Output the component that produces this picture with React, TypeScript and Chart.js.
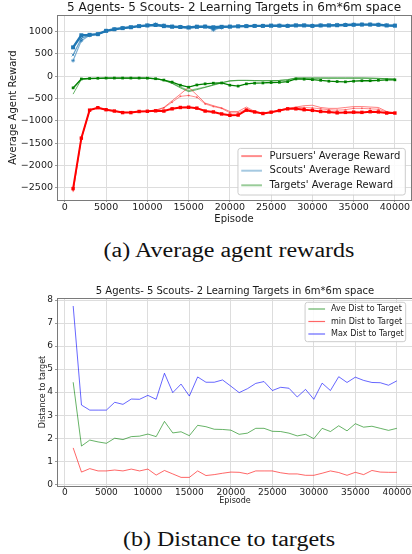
import React, { useEffect, useRef } from "react";
import { Chart, registerables } from "chart.js";

Chart.register(...registerables);

const FONT = "'DejaVu Sans', sans-serif";
const TEXT = "#1a1a1a";
const GRID = "#dddddd";
const SPINE = "#7a7a7a";

const chartTitle = "5 Agents- 5 Scouts- 2 Learning Targets in 6m*6m space";

const episodes = [
  1000, 2000, 3000, 4000, 5000, 6000, 7000, 8000, 9000, 10000,
  11000, 12000, 13000, 14000, 15000, 16000, 17000, 18000, 19000, 20000,
  21000, 22000, 23000, 24000, 25000, 26000, 27000, 28000, 29000, 30000,
  31000, 32000, 33000, 34000, 35000, 36000, 37000, 38000, 39000, 40000,
];
const episodeTicks = [0, 5000, 10000, 15000, 20000, 25000, 30000, 35000, 40000];
const rewardTicks = [-2500, -2000, -1500, -1000, -500, 0, 500, 1000];
const distTicks = [0, 1, 2, 3, 4, 5, 6, 7, 8];

// (a) rewards
const pursuersMain = [
  -2520, -1388, -760, -705, -750, -780, -815, -815, -790, -785,
  -775, -780, -730, -700, -695, -715, -780, -800, -845, -875,
  -870, -760, -800, -835, -805, -770, -730, -730, -750, -765,
  -790, -800, -820, -810, -805, -810, -795, -800, -825, -825,
];
const pursuersRunB = [
  -2600, -1400, -755, -700, -745, -775, -810, -810, -785, -775,
  -760, -700, -550, -400, -245, -420, -600, -660, -710, -790,
  -790, -690, -790, -830, -800, -760, -720, -690, -660, -650,
  -700, -720, -720, -700, -680, -680, -690, -700, -790, -815,
];
const pursuersRunC = [
  -2560, -1390, -765, -710, -755, -785, -815, -815, -795, -790,
  -770, -710, -580, -450, -430, -470, -620, -680, -720, -820,
  -820, -740, -790, -830, -810, -770, -730, -700, -700, -710,
  -730, -750, -760, -750, -720, -720, -730, -740, -805, -820,
];
const scoutsMain = [
  649, 920, 930, 945, 1020, 1055, 1080, 1100, 1125, 1140,
  1150, 1125, 1110, 1105, 1095, 1110, 1115, 1100, 1110, 1115,
  1120, 1125, 1130, 1130, 1135, 1135, 1130, 1140, 1140, 1130,
  1140, 1140, 1145, 1150, 1155, 1160, 1160, 1155, 1140, 1135,
];
const scoutsRunB = [
  479, 850, 930, 940, 1015, 1050, 1080, 1100, 1125, 1145,
  1160, 1140, 1120, 1100, 1085, 1100, 1110, 1060, 1095, 1110,
  1120, 1125, 1125, 1130, 1130, 1135, 1135, 1145, 1145, 1135,
  1140, 1145, 1150, 1155, 1160, 1160, 1160, 1160, 1145, 1140,
];
const scoutsRunC = [
  351, 800, 920, 945, 1020, 1060, 1085, 1105, 1130, 1145,
  1170, 1150, 1130, 1110, 1100, 1120, 1120, 1040, 1090, 1110,
  1125, 1130, 1130, 1135, 1140, 1140, 1140, 1150, 1150, 1140,
  1145, 1150, 1155, 1160, 1165, 1165, 1165, 1160, 1150, 1145,
];
const targetsMain = [
  -260, -60, -50, -45, -40, -40, -40, -40, -40, -42,
  -55, -85, -130, -200, -245, -195, -170, -155, -150, -200,
  -220, -170, -155, -150, -140, -135, -120, -60, -65, -75,
  -90, -110, -118, -125, -110, -100, -100, -90, -80, -80,
];
const targetsRunB = [
  -400, -70, -50, -45, -40, -40, -40, -40, -40, -42,
  -55, -90, -160, -260, -345, -300, -250, -200, -150, -100,
  -90, -90, -95, -100, -100, -95, -80, -35, -35, -35,
  -35, -35, -35, -35, -35, -35, -40, -45, -55, -60,
];
const targetsRunC = [
  -280, -65, -50, -45, -40, -40, -40, -40, -40, -42,
  -55, -88, -150, -240, -320, -280, -240, -190, -140, -110,
  -95, -95, -100, -100, -95, -90, -75, -45, -45, -45,
  -45, -45, -45, -45, -45, -45, -48, -50, -58, -62,
];

// (b) distances
const aveDist = [
  4.43, 1.66, 1.92, 1.84, 1.78, 2.0, 1.94, 2.07, 2.09, 2.18,
  2.07, 2.73, 2.23, 2.28, 2.11, 2.56, 2.5, 2.39, 2.38, 2.35,
  2.17, 2.22, 2.43, 2.43, 2.3, 2.29, 2.22, 2.1, 2.17, 1.98,
  2.43, 2.29, 2.54, 2.32, 2.63, 2.48, 2.52, 2.43, 2.34, 2.43,
];
const minDist = [
  1.58, 0.53, 0.68, 0.58, 0.58, 0.62, 0.58, 0.66, 0.58, 0.66,
  0.4, 0.6, 0.45, 0.3, 0.3, 0.58, 0.38, 0.42, 0.48, 0.53,
  0.52, 0.45, 0.58, 0.58, 0.58, 0.5, 0.45, 0.45, 0.39, 0.39,
  0.48, 0.58, 0.51, 0.39, 0.52, 0.42, 0.6, 0.53, 0.52, 0.52,
];
const maxDist = [
  7.74, 3.44, 3.22, 3.22, 3.22, 3.56, 3.47, 3.7, 3.69, 3.86,
  3.69, 4.82, 3.98, 4.35, 3.83, 4.66, 4.43, 4.43, 4.53, 4.26,
  3.98, 4.15, 4.38, 4.46, 4.07, 4.21, 4.17, 3.79, 4.12, 3.69,
  4.39, 4.07, 4.67, 4.42, 4.65, 4.51, 4.42, 4.41, 4.3, 4.49,
];

const rewardLegend = ["Pursuers' Average Reward", "Scouts' Average Reward", "Targets' Average Reward"];
const distLegend = ["Ave Dist to Target", "min Dist to Target", "Max Dist to Target"];

const toPoints = (ys: number[]) => episodes.map((x, i) => ({ x, y: ys[i] }));
const fmt = (v: number) => (v < 0 ? "\u2212" + Math.abs(v) : String(v));

const framePlugin = {
  id: "frame",
  afterDatasetsDraw(chart: any, _a: any, opts: any) {
    const { ctx, chartArea: a } = chart;
    ctx.save();
    ctx.strokeStyle = opts.color || SPINE;
    ctx.lineWidth = 1;
    const l = Math.round(a.left), t = Math.round(a.top), r = Math.round(a.right), b = Math.round(a.bottom);
    ctx.strokeRect(l + 0.5, t + 0.5, r - l, b - t);
    ctx.restore();
  },
};

const boxLegendPlugin = {
  id: "boxLegend",
  afterDraw(chart: any, _a: any, o: any) {
    if (!o || !o.items) return;
    const { ctx, chartArea: a } = chart;
    ctx.save();
    ctx.font = `${o.fontSize}px ${FONT}`;
    const tw = Math.max(...o.items.map((it: any) => ctx.measureText(it.text).width));
    const w = o.padL + o.lineLen + o.gap + tw + o.padR;
    const h = o.padT + o.rowH * (o.items.length - 1) + o.padB;
    const right = a.right - o.offsetX;
    const left = right - w;
    const top = o.anchor === "top" ? a.top + o.offsetY : a.bottom - o.offsetY - h;
    const rr = 2.5;
    ctx.beginPath();
    ctx.moveTo(left + rr, top);
    ctx.lineTo(right - rr, top);
    ctx.quadraticCurveTo(right, top, right, top + rr);
    ctx.lineTo(right, top + h - rr);
    ctx.quadraticCurveTo(right, top + h, right - rr, top + h);
    ctx.lineTo(left + rr, top + h);
    ctx.quadraticCurveTo(left, top + h, left, top + h - rr);
    ctx.lineTo(left, top + rr);
    ctx.quadraticCurveTo(left, top, left + rr, top);
    ctx.closePath();
    ctx.fillStyle = "rgba(255,255,255,0.85)";
    ctx.fill();
    ctx.strokeStyle = "#cccccc";
    ctx.lineWidth = 1;
    ctx.stroke();
    o.items.forEach((it: any, i: number) => {
      const y = top + o.padT + i * o.rowH;
      ctx.beginPath();
      ctx.strokeStyle = it.color;
      ctx.lineWidth = o.lineWidth;
      ctx.moveTo(left + o.padL, y);
      ctx.lineTo(left + o.padL + o.lineLen, y);
      ctx.stroke();
      ctx.fillStyle = TEXT;
      ctx.textBaseline = "middle";
      ctx.textAlign = "left";
      ctx.fillText(it.text, left + o.padL + o.lineLen + o.gap, y);
    });
    ctx.restore();
  },
};

function xScale(height: number, tickSize: number, tickPad: number, titleSize: number, titlePadBottom: number) {
  return {
    type: "linear",
    min: -950,
    max: 41950,
    bounds: "data",
    afterBuildTicks: (s: any) => {
      s.ticks = episodeTicks.map((v) => ({ value: v }));
    },
    afterFit: (s: any) => {
      s.height = height;
    },
    ticks: {
      autoSkip: false,
      maxRotation: 0,
      minRotation: 0,
      padding: tickPad,
      color: TEXT,
      font: { family: FONT, size: tickSize, lineHeight: 1 },
      callback: (v: any) => String(v),
    },
    grid: { color: GRID, tickLength: 2, tickColor: "#9a9a9a" },
    border: { display: false },
    title: {
      display: true,
      text: "Episode",
      color: TEXT,
      font: { family: FONT, size: titleSize, lineHeight: 1.2 },
      padding: { top: 0, bottom: titlePadBottom },
    },
  };
}

function yScale(min: number, max: number, ticks: number[], tickSize: number, title: string, titleSize: number, titlePadTop: number) {
  return {
    type: "linear",
    min,
    max,
    bounds: "data",
    afterBuildTicks: (s: any) => {
      s.ticks = ticks.map((v) => ({ value: v }));
    },
    afterFit: (s: any) => {
      s.width = 57;
    },
    ticks: {
      autoSkip: false,
      padding: 2,
      color: TEXT,
      font: { family: FONT, size: tickSize, lineHeight: 1 },
      callback: (v: any) => fmt(v),
    },
    grid: { color: GRID, tickLength: 2, tickColor: "#9a9a9a" },
    border: { display: false },
    title: {
      display: true,
      text: title,
      color: TEXT,
      font: { family: FONT, size: titleSize, lineHeight: 1.2 },
      padding: { top: titlePadTop, bottom: 0 },
    },
  };
}

const RED = "#ff0000";
const BLUE = "#1f77b4";
const GREEN = "#008000";

function rewardConfig(): any {
  const thin = (ys: number[], color: string, extra: any = {}) => ({
    data: toPoints(ys),
    borderColor: color,
    backgroundColor: color,
    borderWidth: 1,
    pointRadius: 0,
    tension: 0,
    ...extra,
  });
  return {
    type: "line",
    data: {
      datasets: [
        thin(pursuersRunB, "rgba(255,0,0,0.5)", { order: 5 }),
        thin(pursuersRunC, "rgba(255,0,0,0.45)", { order: 5, pointRadius: 1, pointStyle: "circle", pointBorderWidth: 0 }),
        { data: toPoints(pursuersMain), borderColor: RED, backgroundColor: RED, borderWidth: 2, pointStyle: "rect", pointRadius: 2.4, pointBorderWidth: 0, tension: 0, order: 2 },
        thin(targetsRunB, "rgba(0,128,0,0.6)", { order: 5 }),
        thin(targetsRunC, "rgba(0,128,0,0.45)", { order: 5, borderWidth: 1.2 }),
        { data: toPoints(targetsMain), borderColor: GREEN, backgroundColor: GREEN, borderWidth: 1.3, pointStyle: "rect", pointRadius: 1.9, pointBorderWidth: 0, tension: 0, order: 2 },
        thin(scoutsRunC, "rgba(31,119,180,0.6)", { order: 3, borderWidth: 1.2, pointRadius: 2, pointStyle: "star", pointBorderWidth: 1 }),
        thin(scoutsRunB, "rgba(31,119,180,0.7)", { order: 3, borderWidth: 1.2, pointRadius: 2, pointStyle: "crossRot", pointBorderWidth: 1 }),
        { data: toPoints(scoutsMain), borderColor: BLUE, backgroundColor: BLUE, borderWidth: 2.4, pointStyle: "rect", pointRadius: 2.8, pointBorderWidth: 0, tension: 0, order: 1 },
      ],
    },
    options: {
      responsive: false,
      animation: false,
      devicePixelRatio: 1,
      events: [],
      layout: { padding: { left: 0, right: 3, top: 0, bottom: 0 } },
      plugins: {
        legend: { display: false },
        tooltip: { enabled: false },
        title: {
          display: true,
          fullSize: false,
          text: chartTitle,
          color: TEXT,
          font: { family: FONT, size: 12, weight: "normal", lineHeight: 1 },
          padding: { top: 1.5, bottom: 1.5 },
        },
        frame: { color: SPINE },
        boxLegend: {
          items: [
            { text: rewardLegend[0], color: "rgba(255,0,0,0.45)" },
            { text: rewardLegend[1], color: "rgba(31,119,180,0.4)" },
            { text: rewardLegend[2], color: "rgba(0,128,0,0.4)" },
          ],
          fontSize: 10,
          anchor: "bottom",
          offsetX: 5.7,
          offsetY: 5,
          padL: 3.3,
          lineLen: 20.7,
          gap: 7.6,
          padR: 5,
          padT: 7.7,
          rowH: 14.6,
          padB: 9.7,
          lineWidth: 2,
        },
      },
      scales: {
        x: xScale(28, 9.5, 1, 10, 2.8),
        y: yScale(-2776, 1375, rewardTicks, 9.5, "Average Agent Reward", 10, 7),
      },
    },
    plugins: [framePlugin, boxLegendPlugin],
  };
}

function distConfig(): any {
  const ln = (ys: number[], color: string) => ({
    data: toPoints(ys),
    borderColor: color,
    backgroundColor: color,
    borderWidth: 1,
    pointRadius: 0,
    tension: 0,
  });
  return {
    type: "line",
    data: {
      datasets: [
        ln(aveDist, "rgba(0,128,0,0.6)"),
        ln(minDist, "rgba(255,0,0,0.6)"),
        ln(maxDist, "rgba(0,0,255,0.6)"),
      ],
    },
    options: {
      responsive: false,
      animation: false,
      devicePixelRatio: 1,
      events: [],
      layout: { padding: { left: 0, right: 3, top: 0, bottom: 0 } },
      plugins: {
        legend: { display: false },
        tooltip: { enabled: false },
        title: {
          display: true,
          fullSize: false,
          text: chartTitle,
          color: TEXT,
          font: { family: FONT, size: 10, weight: "normal", lineHeight: 1 },
          padding: { top: 2.5, bottom: 1.5 },
        },
        frame: { color: SPINE },
        boxLegend: {
          items: [
            { text: distLegend[0], color: "rgba(0,128,0,0.6)" },
            { text: distLegend[1], color: "rgba(255,0,0,0.6)" },
            { text: distLegend[2], color: "rgba(0,0,255,0.6)" },
          ],
          fontSize: 8,
          anchor: "top",
          offsetX: 7.3,
          offsetY: 4.3,
          padL: 3.3,
          lineLen: 16.7,
          gap: 6,
          padR: 2,
          padT: 6.7,
          rowH: 12.5,
          padB: 7.7,
          lineWidth: 1.2,
        },
      },
      scales: {
        x: xScale(24, 9, 0, 8, 3.9),
        y: yScale(-0.074, 8.087, distTicks, 9, "Distance to target", 8, 37.9),
      },
    },
    plugins: [framePlugin, boxLegendPlugin],
  };
}

function ChartCanvas({ makeConfig, top, height }: { makeConfig: () => any; top: number; height: number }) {
  const ref = useRef<HTMLCanvasElement>(null);
  useEffect(() => {
    const chart = new Chart(ref.current as HTMLCanvasElement, makeConfig());
    return () => chart.destroy();
  }, []);
  return (
    <canvas
      ref={ref}
      width={416}
      height={height}
      style={{ position: "absolute", left: 0, top, width: 416, height, display: "block" }}
    />
  );
}

const captionStyle = (top: number): React.CSSProperties => ({
  position: "absolute",
  left: 229,
  top,
  fontFamily: "'Liberation Serif', 'Times New Roman', serif",
  fontSize: 20,
  lineHeight: "20px",
  whiteSpace: "nowrap",
  color: "#111",
  transform: "translateX(-50%) scaleX(1.2)",
});

export default function App() {
  return (
    <div
      style={{
        position: "absolute",
        left: 0,
        top: 0,
        width: 412,
        height: 554,
        overflow: "hidden",
        background: "#ffffff",
      }}
    >
      <ChartCanvas makeConfig={rewardConfig} top={0} height={228} />
      <div style={captionStyle(240.3)}>(a) Average agent rewards</div>
      <ChartCanvas makeConfig={distConfig} top={284} height={226} />
      <div style={captionStyle(528.9)}>(b) Distance to targets</div>
    </div>
  );
}
